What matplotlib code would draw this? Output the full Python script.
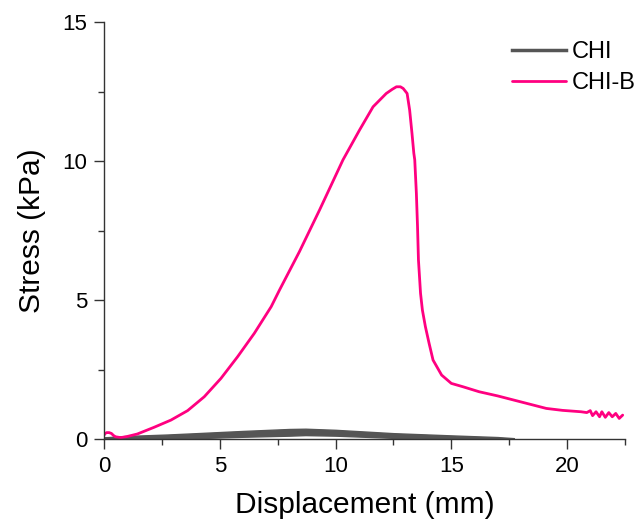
import matplotlib
matplotlib.use("Agg")
import matplotlib.pyplot as plt
from matplotlib.ticker import MultipleLocator

plt.rcParams['font.family'] = ['Liberation Sans', 'DejaVu Sans']

# CHI-B stress curve (mm, kPa)
chib_x = [0.0, 0.05, 0.12, 0.22, 0.32, 0.42, 0.5, 0.72, 1.0, 1.44, 2.16, 2.89, 3.61, 4.33,
          5.05, 5.77, 6.49, 7.22, 7.58, 8.44, 9.31, 10.32, 11.04, 11.62, 12.19, 12.45,
          12.63, 12.8, 12.92, 13.09, 13.2, 13.3, 13.38, 13.42, 13.49, 13.54, 13.58, 13.67,
          13.75, 13.88, 14.04, 14.21, 14.58, 15.0, 15.5, 16.2, 17.0, 17.7, 18.4, 19.1,
          19.8, 20.6, 20.85, 21.0, 21.1, 21.25, 21.4, 21.5, 21.65, 21.8, 21.95, 22.1,
          22.25, 22.4]
chib_y = [0.14, 0.2, 0.23, 0.23, 0.2, 0.12, 0.08, 0.05, 0.09, 0.18, 0.42, 0.68, 1.02, 1.52,
          2.18, 2.96, 3.8, 4.76, 5.36, 6.74, 8.24, 10.04, 11.12, 11.95, 12.43, 12.58,
          12.67, 12.67, 12.61, 12.43, 11.83, 11.0, 10.28, 10.04, 8.84, 7.64, 6.44, 5.24,
          4.64, 4.04, 3.44, 2.84, 2.3, 2.0, 1.88, 1.7, 1.55, 1.4, 1.25, 1.1,
          1.03, 0.98, 0.95, 1.02, 0.84, 0.98, 0.8, 0.98, 0.78, 0.95, 0.8, 0.92,
          0.74, 0.86]

# CHI stress band (noisy measurement envelope)
chi_x = [0.0, 1.0, 2.7, 4.0, 6.0, 8.0, 8.7, 10.0, 12.5, 15.0, 17.0, 17.7]
chi_upper = [0.06, 0.11, 0.16, 0.21, 0.29, 0.36, 0.37, 0.33, 0.21, 0.13, 0.07, 0.03]
chi_lower = [0.0, 0.0, 0.0, 0.03, 0.08, 0.12, 0.14, 0.12, 0.04, 0.0, 0.0, 0.0]

labels = ['CHI', 'CHI-B']
gray = '#555555'
pink = '#FF0080'

fig = plt.figure(figsize=(6.42, 5.29), dpi=100)
ax = fig.add_axes([104/642, 1-439/529, (625-104)/642, (439-22)/529])

ax.fill_between(chi_x, chi_lower, chi_upper, color=gray, lw=1.0, edgecolor=gray)
ax.plot([], [], color=gray, lw=2.5, label=labels[0])
ax.plot(chib_x, chib_y, color=pink, lw=2.0, label=labels[1],
        solid_joinstyle='round', solid_capstyle='round')

ax.set_xlim(0, 22.5)
ax.set_ylim(0, 15)
ax.xaxis.set_major_locator(MultipleLocator(5))
ax.xaxis.set_minor_locator(MultipleLocator(2.5))
ax.yaxis.set_major_locator(MultipleLocator(5))
ax.yaxis.set_minor_locator(MultipleLocator(2.5))
for s in ['top', 'right']:
    ax.spines[s].set_visible(False)
for s in ['left', 'bottom']:
    ax.spines[s].set_color('#333333')
    ax.spines[s].set_linewidth(1.0)
ax.tick_params(which='major', direction='out', length=7, width=1, color='#333333',
               labelsize=16, pad=5)
ax.tick_params(which='minor', direction='out', length=4, width=1, color='#333333')
ax.set_xlabel('Displacement (mm)', fontsize=21.5, labelpad=10)
ax.set_ylabel('Stress (kPa)', fontsize=21.5, labelpad=12)

leg = fig.legend(loc='upper left', bbox_to_anchor=(512/642, 1-41/529), frameon=False,
                 fontsize=17, handlelength=2.3, handletextpad=0.25, labelspacing=0.38,
                 borderpad=0, borderaxespad=0)

fig.savefig('out.png', dpi=100)
